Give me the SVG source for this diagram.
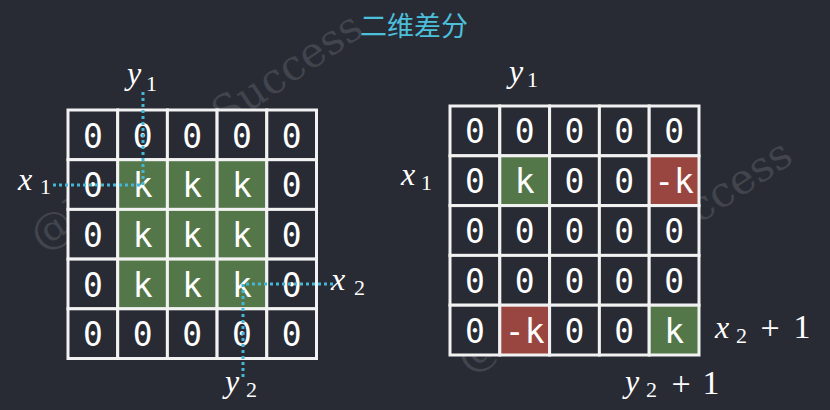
<svg xmlns="http://www.w3.org/2000/svg" width="830" height="410" viewBox="0 0 830 410">
<style>
.bg{fill:#282b34}
.c{fill:#282b34;stroke:#f2f2f2;stroke-width:3}
.g{fill:#54774a;stroke:#f2f2f2;stroke-width:3}
.r{fill:#994641;stroke:#f2f2f2;stroke-width:3}
.t{font-family:"DejaVu Sans Mono","Liberation Mono",monospace;font-size:33px;fill:#ffffff;text-anchor:middle}
.m{font-family:"Liberation Serif","DejaVu Serif",serif;font-style:italic;font-size:32px;fill:#ffffff}
.s{font-family:"Liberation Serif","DejaVu Serif",serif;font-size:22px;fill:#ffffff}
.n{font-family:"Liberation Serif","DejaVu Serif",serif;font-size:34px;fill:#ffffff;text-anchor:middle}
.d{stroke:#45b6d6;stroke-width:3;stroke-dasharray:3 3;fill:none}
.w{font-family:"DejaVu Serif","Liberation Serif",serif;font-size:42px;fill:#ffffff;fill-opacity:0.12}
.title{font-family:"Noto Sans CJK SC","Noto Sans",sans-serif;font-size:27px;fill:#4cbfdb;text-anchor:middle}
</style>
<rect class="bg" x="0" y="0" width="830" height="410"/>
<text class="w" transform="translate(42,252) rotate(-34)">@NotOnlySuccess</text>
<text class="w" transform="translate(468,374) rotate(-33)">@NotOnlySuccess</text>
<g id="title"><text class="title" x="414" y="36">二维差分</text></g>
<g id="left-grid">
<g id="L00"><rect class="c" x="68" y="110" width="49.7" height="49.7"/><text class="t" x="92.9" y="147.5">0</text></g>
<g id="L01"><rect class="c" x="117.7" y="110" width="49.7" height="49.7"/><text class="t" x="142.6" y="147.5">0</text></g>
<g id="L02"><rect class="c" x="167.4" y="110" width="49.7" height="49.7"/><text class="t" x="192.3" y="147.5">0</text></g>
<g id="L03"><rect class="c" x="217.1" y="110" width="49.7" height="49.7"/><text class="t" x="242" y="147.5">0</text></g>
<g id="L04"><rect class="c" x="266.8" y="110" width="49.7" height="49.7"/><text class="t" x="291.7" y="147.5">0</text></g>
<g id="L10"><rect class="c" x="68" y="159.7" width="49.7" height="49.7"/><text class="t" x="92.9" y="197.2">0</text></g>
<g id="L11"><rect class="g" x="117.7" y="159.7" width="49.7" height="49.7"/><text class="t" x="142.6" y="197.2">k</text></g>
<g id="L12"><rect class="g" x="167.4" y="159.7" width="49.7" height="49.7"/><text class="t" x="192.3" y="197.2">k</text></g>
<g id="L13"><rect class="g" x="217.1" y="159.7" width="49.7" height="49.7"/><text class="t" x="242" y="197.2">k</text></g>
<g id="L14"><rect class="c" x="266.8" y="159.7" width="49.7" height="49.7"/><text class="t" x="291.7" y="197.2">0</text></g>
<g id="L20"><rect class="c" x="68" y="209.4" width="49.7" height="49.7"/><text class="t" x="92.9" y="246.9">0</text></g>
<g id="L21"><rect class="g" x="117.7" y="209.4" width="49.7" height="49.7"/><text class="t" x="142.6" y="246.9">k</text></g>
<g id="L22"><rect class="g" x="167.4" y="209.4" width="49.7" height="49.7"/><text class="t" x="192.3" y="246.9">k</text></g>
<g id="L23"><rect class="g" x="217.1" y="209.4" width="49.7" height="49.7"/><text class="t" x="242" y="246.9">k</text></g>
<g id="L24"><rect class="c" x="266.8" y="209.4" width="49.7" height="49.7"/><text class="t" x="291.7" y="246.9">0</text></g>
<g id="L30"><rect class="c" x="68" y="259.1" width="49.7" height="49.7"/><text class="t" x="92.9" y="296.6">0</text></g>
<g id="L31"><rect class="g" x="117.7" y="259.1" width="49.7" height="49.7"/><text class="t" x="142.6" y="296.6">k</text></g>
<g id="L32"><rect class="g" x="167.4" y="259.1" width="49.7" height="49.7"/><text class="t" x="192.3" y="296.6">k</text></g>
<g id="L33"><rect class="g" x="217.1" y="259.1" width="49.7" height="49.7"/><text class="t" x="242" y="296.6">k</text></g>
<g id="L34"><rect class="c" x="266.8" y="259.1" width="49.7" height="49.7"/><text class="t" x="291.7" y="296.6">0</text></g>
<g id="L40"><rect class="c" x="68" y="308.8" width="49.7" height="49.7"/><text class="t" x="92.9" y="346.3">0</text></g>
<g id="L41"><rect class="c" x="117.7" y="308.8" width="49.7" height="49.7"/><text class="t" x="142.6" y="346.3">0</text></g>
<g id="L42"><rect class="c" x="167.4" y="308.8" width="49.7" height="49.7"/><text class="t" x="192.3" y="346.3">0</text></g>
<g id="L43"><rect class="c" x="217.1" y="308.8" width="49.7" height="49.7"/><text class="t" x="242" y="346.3">0</text></g>
<g id="L44"><rect class="c" x="266.8" y="308.8" width="49.7" height="49.7"/><text class="t" x="291.7" y="346.3">0</text></g>
</g>
<g id="right-grid">
<g id="R00"><rect class="c" x="450" y="106" width="49.8" height="49.8"/><text class="t" x="474.9" y="143.4">0</text></g>
<g id="R01"><rect class="c" x="499.8" y="106" width="49.8" height="49.8"/><text class="t" x="524.7" y="143.4">0</text></g>
<g id="R02"><rect class="c" x="549.6" y="106" width="49.8" height="49.8"/><text class="t" x="574.5" y="143.4">0</text></g>
<g id="R03"><rect class="c" x="599.4" y="106" width="49.8" height="49.8"/><text class="t" x="624.3" y="143.4">0</text></g>
<g id="R04"><rect class="c" x="649.2" y="106" width="49.8" height="49.8"/><text class="t" x="674.1" y="143.4">0</text></g>
<g id="R10"><rect class="c" x="450" y="155.8" width="49.8" height="49.8"/><text class="t" x="474.9" y="193.2">0</text></g>
<g id="R11"><rect class="g" x="499.8" y="155.8" width="49.8" height="49.8"/><text class="t" x="524.7" y="193.2">k</text></g>
<g id="R12"><rect class="c" x="549.6" y="155.8" width="49.8" height="49.8"/><text class="t" x="574.5" y="193.2">0</text></g>
<g id="R13"><rect class="c" x="599.4" y="155.8" width="49.8" height="49.8"/><text class="t" x="624.3" y="193.2">0</text></g>
<g id="R14"><rect class="r" x="649.2" y="155.8" width="49.8" height="49.8"/><text class="t" x="674.1" y="193.2">-k</text></g>
<g id="R20"><rect class="c" x="450" y="205.6" width="49.8" height="49.8"/><text class="t" x="474.9" y="243">0</text></g>
<g id="R21"><rect class="c" x="499.8" y="205.6" width="49.8" height="49.8"/><text class="t" x="524.7" y="243">0</text></g>
<g id="R22"><rect class="c" x="549.6" y="205.6" width="49.8" height="49.8"/><text class="t" x="574.5" y="243">0</text></g>
<g id="R23"><rect class="c" x="599.4" y="205.6" width="49.8" height="49.8"/><text class="t" x="624.3" y="243">0</text></g>
<g id="R24"><rect class="c" x="649.2" y="205.6" width="49.8" height="49.8"/><text class="t" x="674.1" y="243">0</text></g>
<g id="R30"><rect class="c" x="450" y="255.4" width="49.8" height="49.8"/><text class="t" x="474.9" y="292.8">0</text></g>
<g id="R31"><rect class="c" x="499.8" y="255.4" width="49.8" height="49.8"/><text class="t" x="524.7" y="292.8">0</text></g>
<g id="R32"><rect class="c" x="549.6" y="255.4" width="49.8" height="49.8"/><text class="t" x="574.5" y="292.8">0</text></g>
<g id="R33"><rect class="c" x="599.4" y="255.4" width="49.8" height="49.8"/><text class="t" x="624.3" y="292.8">0</text></g>
<g id="R34"><rect class="c" x="649.2" y="255.4" width="49.8" height="49.8"/><text class="t" x="674.1" y="292.8">0</text></g>
<g id="R40"><rect class="c" x="450" y="305.2" width="49.8" height="49.8"/><text class="t" x="474.9" y="342.6">0</text></g>
<g id="R41"><rect class="r" x="499.8" y="305.2" width="49.8" height="49.8"/><text class="t" x="524.7" y="342.6">-k</text></g>
<g id="R42"><rect class="c" x="549.6" y="305.2" width="49.8" height="49.8"/><text class="t" x="574.5" y="342.6">0</text></g>
<g id="R43"><rect class="c" x="599.4" y="305.2" width="49.8" height="49.8"/><text class="t" x="624.3" y="342.6">0</text></g>
<g id="R44"><rect class="g" x="649.2" y="305.2" width="49.8" height="49.8"/><text class="t" x="674.1" y="342.6">k</text></g>
</g>
<g id="connectors">
<path class="d" d="M143,92 V185 H52"/>
<path class="d" d="M333,284 H243 V377"/>
</g>
<g id="labels">
<g id="L-y1"><text class="m" x="127" y="84">y</text><text class="s" x="146" y="91">1</text></g>
<g id="L-x1"><text class="m" x="18" y="190">x</text><text class="s" x="40" y="194">1</text></g>
<g id="L-x2"><text class="m" x="331" y="290">x</text><text class="s" x="354" y="295">2</text></g>
<g id="L-y2"><text class="m" x="225" y="392">y</text><text class="s" x="246" y="397">2</text></g>
<g id="R-y1"><text class="m" x="509" y="82">y</text><text class="s" x="527" y="87">1</text></g>
<g id="R-x1"><text class="m" x="401" y="185">x</text><text class="s" x="421" y="190">1</text></g>
<g id="R-x2"><text class="m" x="715" y="338">x</text><text class="s" x="736" y="343">2</text><text class="n" x="770" y="339">+</text><text class="n" x="802" y="338">1</text></g>
<g id="R-y2"><text class="m" x="625" y="392">y</text><text class="s" x="646" y="397">2</text><text class="n" x="681" y="395">+</text><text class="n" x="711" y="394">1</text></g>
</g>
</svg>
